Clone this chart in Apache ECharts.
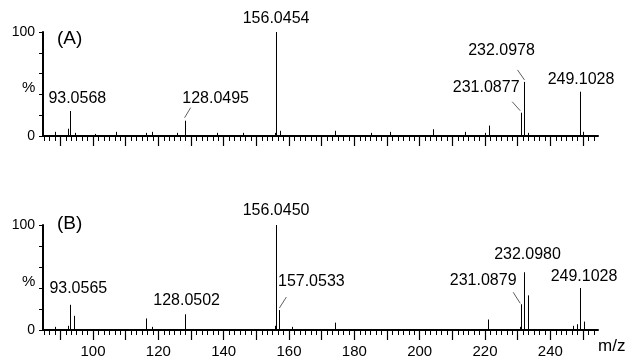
<!DOCTYPE html>
<html>
<head>
<meta charset="utf-8">
<script src="https://cdn.jsdelivr.net/npm/echarts@6/dist/echarts.min.js"></script>
<style>
  html, body { margin: 0; padding: 0; background: #fff; }
  #chart { width: 632px; height: 359px; }
</style>
</head>
<body>
<div id="chart"></div>
<script>
// spectrum (A), top panel: m/z and relative intensity (%)
const mzA = [88.4, 92.4, 93.0568, 94.4, 100.6, 107.2, 116.1, 118.2, 125.6, 128.0495, 138.1, 146.0,
  155.7, 156.0454, 157.2, 174.2, 185.2, 190.8, 204.2, 214.0, 219.9, 221.1, 231.0877, 232.0978,
  233.2, 249.1028, 250.1];
const intA = [4, 7, 24, 3, 2, 4, 3, 4, 3, 14.7, 3, 3,
  3, 100, 5, 5, 3, 4, 6.5, 4, 3, 10, 22.4, 52,
  3, 42.6, 4];

// spectrum (B), bottom panel
const mzB = [88.3, 92.3, 93.0565, 94.07, 116.2, 118.1, 128.0502, 155.7, 156.0450, 157.0533, 160.9,
  174.0, 221.0, 230.6, 231.0879, 232.0980, 233.1, 247.0, 248.1, 249.1028, 250.3];
const intB = [3, 4, 24, 13.5, 11, 3, 15, 4, 100, 19, 3,
  7, 10, 3, 24.5, 55, 33, 4, 5.5, 40, 8];

// annotated peaks
const labelsA = [93.0568, 128.0495, 156.0454, 231.0877, 232.0978, 249.1028];
const labelsB = [93.0565, 128.0502, 156.0450, 157.0533, 231.0879, 232.0980, 249.1028];

// axes
const xMin = 84.7;
const xMax = 254.6;
const xTickLabels = [100, 120, 140, 160, 180, 200, 220, 240];
const xMajorTicks = [90, 100, 110, 120, 130, 140, 150, 160, 170, 180, 190, 200, 210, 220, 230, 240, 250];
const yTickLabels = [0, 100];

// minor ticks: 6 divisions per 10 m/z
const xMinorTicks = [];
for (let m = 80; m <= 250; m += 10) {
  for (let k = 1; k < 6; k++) {
    const v = m + k * 10 / 6;
    if (v > xMin && v < xMax) xMinorTicks.push(v);
  }
}

// label placement, px from the peak top: text centre [dx, dy], optional leader [x1, y1, x2, y2]
const placeA = [
  { t: [7, -12] },
  { t: [31, -22], l: [0, -3, 6, -13] },
  { t: [0, -13] },
  { t: [-35, -25], l: [-9, -11, -1, -2] },
  { t: [-23, -31], l: [-7, -12, 0, -2] },
  { t: [1, -12] }
];
const placeB = [
  { t: [8, -16] },
  { t: [2, -14] },
  { t: [0, -14] },
  { t: [32, -28], l: [0, -2, 7, -13] },
  { t: [-38, -24], l: [-8, -12, -1, -1] },
  { t: [3, -18] },
  { t: [4, -11] }
];

const FONT = '"Liberation Sans", Arial, Helvetica, sans-serif';

function peakData(mz, ints) {
  return mz.map((m, i) => [m, ints[i]]);
}
function labelData(labels, mz, ints) {
  return labels.map((m, i) => [m, ints[mz.indexOf(m)], i]);
}

function renderPeak(params, api) {
  const p0 = api.coord([api.value(0), 0]);
  const p1 = api.coord([api.value(0), api.value(1)]);
  const x = Math.round(p0[0]) + 0.5;
  return {
    type: 'line',
    shape: { x1: x, y1: p0[1], x2: x, y2: p1[1] },
    style: { stroke: '#000', lineWidth: 1 }
  };
}

function labelRenderer(place) {
  return function (params, api) {
    const m = api.value(0);
    const p = api.coord([m, api.value(1)]);
    const pl = place[api.value(2)];
    const children = [{
      type: 'text',
      x: p[0] + pl.t[0],
      y: p[1] + pl.t[1],
      style: {
        text: m.toFixed(4),
        fill: '#000',
        font: '16px ' + FONT,
        align: 'center',
        verticalAlign: 'middle'
      }
    }];
    if (pl.l) {
      children.push({
        type: 'line',
        shape: { x1: p[0] + pl.l[0], y1: p[1] + pl.l[1], x2: p[0] + pl.l[2], y2: p[1] + pl.l[3] },
        style: { stroke: '#333', lineWidth: 0.8 }
      });
    }
    return { type: 'group', children };
  };
}

function mainX(gridIndex, withLabels) {
  return {
    type: 'value', gridIndex, min: xMin, max: xMax, position: 'bottom',
    splitLine: { show: false },
    axisLine: { show: true, onZero: false, lineStyle: { color: '#000', width: 2 } },
    axisTick: { show: true, length: 10, customValues: xMajorTicks, lineStyle: { color: '#000', width: 1.2 } },
    axisLabel: withLabels
      ? { show: true, customValues: xTickLabels, color: '#000', fontSize: 15, fontFamily: FONT, margin: 14 }
      : { show: false },
    z: 3
  };
}
function minorX(gridIndex) {
  return {
    type: 'value', gridIndex, min: xMin, max: xMax, position: 'bottom',
    splitLine: { show: false },
    axisLine: { show: true, onZero: false, lineStyle: { color: 'rgba(0,0,0,0)', width: 1 } },
    axisTick: { show: true, length: 5, customValues: xMinorTicks, lineStyle: { color: '#000', width: 1 } },
    axisLabel: { show: false },
    z: 2
  };
}
function yAx(gridIndex) {
  return {
    type: 'value', gridIndex, min: 0, max: 100, interval: 20,
    splitLine: { show: false },
    axisLine: { show: true, lineStyle: { color: '#000', width: 2 } },
    axisTick: { show: true, length: 4, lineStyle: { color: '#000', width: 1 } },
    axisLabel: { show: true, customValues: yTickLabels, color: '#000', fontSize: 14, fontFamily: FONT, margin: 8 }
  };
}

const chart = echarts.init(document.getElementById('chart'));
chart.setOption({
  animation: false,
  backgroundColor: '#fff',
  grid: [
    { left: 43, right: 34, top: 32, height: 104 },
    { left: 43, right: 34, top: 225, height: 106 }
  ],
  xAxis: [mainX(0, false), minorX(0), mainX(1, true), minorX(1)],
  yAxis: [yAx(0), yAx(1)],
  graphic: [
    { type: 'text', left: 57, top: 29, style: { text: '(A)', fill: '#000', font: '19px ' + FONT } },
    { type: 'text', left: 57, top: 214, style: { text: '(B)', fill: '#000', font: '19px ' + FONT } },
    { type: 'text', left: 22, top: 80, style: { text: '%', fill: '#000', font: '15px ' + FONT } },
    { type: 'text', left: 22, top: 274, style: { text: '%', fill: '#000', font: '15px ' + FONT } },
    { type: 'text', left: 598, top: 338, style: { text: 'm/z', fill: '#000', font: '17px ' + FONT } }
  ],
  series: [
    { type: 'custom', xAxisIndex: 0, yAxisIndex: 0, renderItem: renderPeak,
      data: peakData(mzA, intA), encode: { x: 0, y: 1 }, silent: true, clip: false },
    { type: 'custom', xAxisIndex: 2, yAxisIndex: 1, renderItem: renderPeak,
      data: peakData(mzB, intB), encode: { x: 0, y: 1 }, silent: true, clip: false },
    { type: 'custom', xAxisIndex: 0, yAxisIndex: 0, renderItem: labelRenderer(placeA),
      data: labelData(labelsA, mzA, intA), encode: { x: 0, y: 1 }, silent: true, clip: false },
    { type: 'custom', xAxisIndex: 2, yAxisIndex: 1, renderItem: labelRenderer(placeB),
      data: labelData(labelsB, mzB, intB), encode: { x: 0, y: 1 }, silent: true, clip: false }
  ]
});
</script>
</body>
</html>
